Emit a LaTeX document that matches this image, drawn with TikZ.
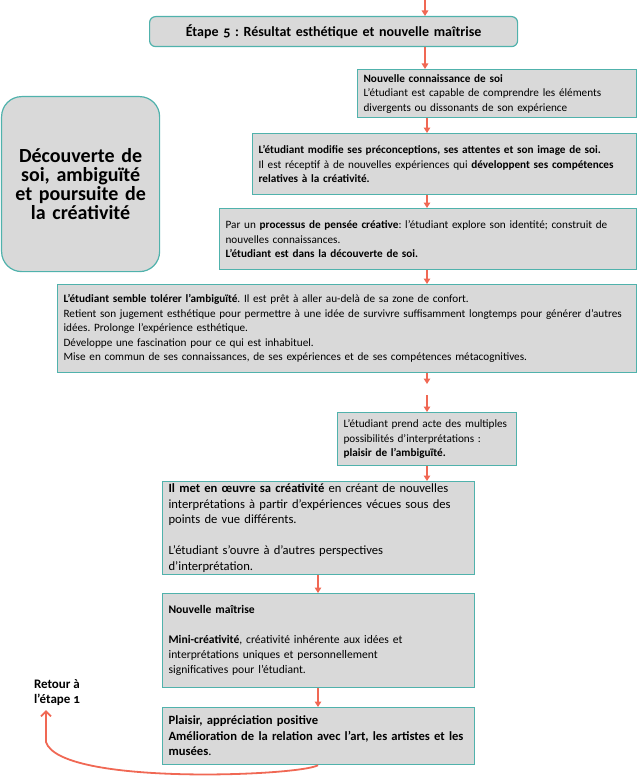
\documentclass[tikz,border=0pt]{standalone}
\usepackage{fontspec}
\setmainfont{Carlito}[Numbers=OldStyle]
\usetikzlibrary{arrows.meta}
\frenchspacing

\definecolor{bordure}{RGB}{80,178,172}
\definecolor{fond}{RGB}{217,217,217}
\definecolor{fleche}{RGB}{240,104,84}

\tikzset{
  boite/.style={draw=bordure, fill=fond, line width=1.2pt, anchor=north west,
    align=left, inner xsep=6pt, inner ysep=2pt,
    font=\fontsize{11.2}{14.5}\selectfont},
  grande/.style={boite, font=\fontsize{12.6}{15.5}\selectfont},
  titre/.style={boite, rounded corners=6pt, align=center,
    font=\bfseries\fontsize{14}{16}\selectfont},
  lien/.style={draw=fleche, line width=1.5pt, -{Triangle[length=5.5pt,width=6.5pt]}},
  retour/.style={draw=fleche, line width=1.8pt, -{Straight Barb[length=5pt,width=10pt]}},
}

\begin{document}
\begin{tikzpicture}[x=1pt,y=-1pt]
    \useasboundingbox (0,0) rectangle (637,781);
    % columns for the arrows
    \coordinate (axe) at (427,0);
    \coordinate (axeb) at (318,0);
    % Left box
    \node[titre, rounded corners=20pt, minimum width=158pt, minimum height=175pt,
      text width=146pt, font=\bfseries\fontsize{20}{19}\selectfont]
      (theme) at (1,96) {Découverte de\\ soi, ambiguïté\\ et poursuite de\\ la créativité};
    % Step title
    \node[titre, minimum width=368pt, minimum height=30pt, text width=356pt]
      (etape) at (149,16) {Étape 5 : Résultat esthétique et nouvelle maîtrise};
    % Boxes
    \node[boite, minimum width=279pt, minimum height=48pt, text width=267pt]
      (connaissance) at (357,69)
      {\textbf{Nouvelle connaissance de soi}\\
       L’étudiant est capable de comprendre les éléments\\
       divergents ou dissonants de son expérience};
    \node[boite, minimum width=384pt, minimum height=61pt, text width=372pt]
      (image) at (252,133)
      {\textbf{L’étudiant modifie ses préconceptions, ses attentes et son image de soi.}\\
       Il est réceptif à de nouvelles expériences qui \textbf{développent ses compétences}\\
       \textbf{relatives à la créativité.}};
    \node[boite, minimum width=417pt, minimum height=61pt, text width=405pt]
      (processus) at (219,208)
      {Par un \textbf{processus de pensée créative}: l’étudiant explore son identité; construit de\\
       nouvelles connaissances.\\
       \textbf{L’étudiant est dans la découverte de soi.}};
    \node[boite, minimum width=579pt, minimum height=88pt, text width=567pt]
      (ambiguite) at (57,284)
      {\textbf{L’étudiant semble tolérer l’ambiguïté}. Il est prêt à aller au-delà de sa zone de confort.\\
       Retient son jugement esthétique pour permettre à une idée de survivre suffisamment longtemps pour générer d’autres\\
       idées. Prolonge l’expérience esthétique.\\
       Développe une fascination pour ce qui est inhabituel.\\
       Mise en commun de ses connaissances, de ses expériences et de ses compétences métacognitives.};
    \node[boite, minimum width=179pt, minimum height=53pt, text width=167pt]
      (interpretations) at (337,412)
      {L’étudiant prend acte des multiples\\
       possibilités d’interprétations :\\
       \textbf{plaisir de l’ambiguïté.}};
    \node[grande, minimum width=312pt, minimum height=93pt, text width=300pt]
      (oeuvre) at (162,481)
      {\textbf{Il met en œuvre sa créativité} en créant de nouvelles\\
       interprétations à partir d’expériences vécues sous des\\
       points de vue différents.\\[15.5pt]
       L’étudiant s’ouvre à d’autres perspectives\\
       d’interprétation.};
    \node[boite, font=\fontsize{11.6}{15}\selectfont, minimum width=312pt,
      minimum height=94pt, text width=300pt]
      (maitrise) at (162,593)
      {\textbf{Nouvelle maîtrise}\\[15pt]
       \textbf{Mini-créativité}, créativité inhérente aux idées et\\
       interprétations uniques et personnellement\\
       significatives pour l’étudiant.};
    \node[grande, minimum width=312pt, minimum height=57pt, text width=300pt]
      (plaisir) at (162,707)
      {\textbf{Plaisir, appréciation positive}\\
       \textbf{Amélioration de la relation avec l’art, les artistes et les}\\
       \textbf{musées}.};
    % Return label
    \node[align=left, inner sep=0pt, font=\bfseries\fontsize{13}{15}\selectfont]
      (etiquette) at (57,693) {Retour à\\ l’étape 1};
    \coordinate (debut) at (425,0);
    \coordinate (coupure) at (427,384);
    \coordinate (reprise) at (427,395);
    \coordinate (pointe) at (46,710);
    % Arrows
    \draw[lien] (debut) -- (etape.north -| debut);
    \draw[lien] (etape.south -| debut) -- (connaissance.north -| debut);
    \draw[lien] (connaissance.south -| axe) -- (image.north -| axe);
    \draw[lien] (image.south -| axe) -- (processus.north -| axe);
    \draw[lien] (processus.south -| axe) -- (ambiguite.north -| axe);
    \draw[lien] (ambiguite.south -| axe) -- (coupure);
    \draw[lien] (reprise) -- (interpretations.north -| axe);
    \draw[lien] (interpretations.south -| axe) -- (oeuvre.north -| axe);
    \draw[lien] (oeuvre.south -| axeb) -- (maitrise.north -| axeb);
    \draw[lien] (maitrise.south -| axeb) -- (plaisir.north -| axeb);
    % back to step 1
    \draw[retour] (plaisir.south -| axeb) .. controls (300,776) and (60,786) .. (46,742) -- (pointe);
\end{tikzpicture}
\end{document}
